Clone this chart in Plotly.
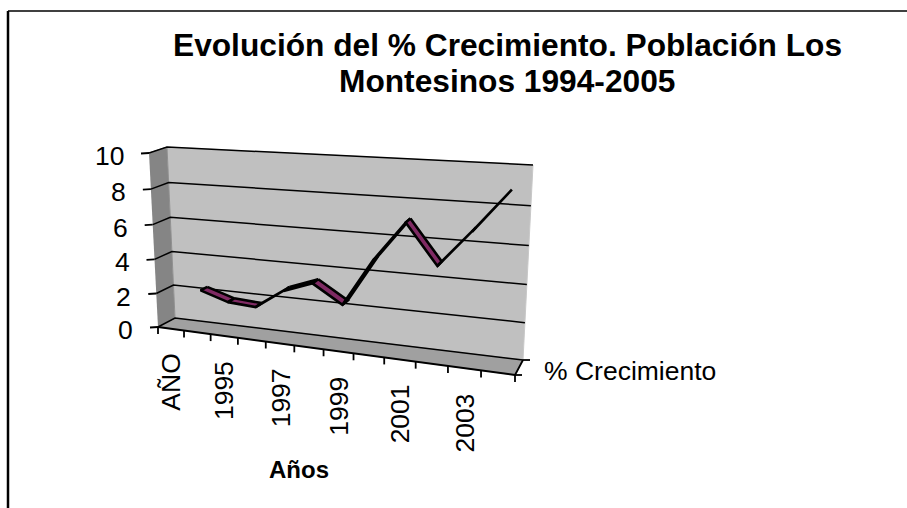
import numpy as np
import plotly.graph_objects as go

# ---- data ----
categories = ["AÑO", "1994", "1995", "1996", "1997", "1998", "1999",
              "2000", "2001", "2002", "2003", "2004"]
growth = [None, 2.3, 1.8, 1.7, 2.8, 3.4, 2.4, 5.0, 7.1, 5.0, 6.9, 8.9]
value_ticks = [0, 2, 4, 6, 8, 10]
shown_labels = ["AÑO", "1995", "1997", "1999", "2001", "2003"]
series_name = "% Crecimiento"
title_lines = ["Evolución del % Crecimiento. Población Los", "Montesinos 1994-2005"]
axis_title = "Años"

# ---- oblique projection of the 3-D chart box onto the page ----
BACK = [(175, 318), (523, 360), (533, 165), (167, 147)]
FRONT = [(158, 327), (515, 375), (525, 175), (149, 153)]


def homography(q):
    src = [(0, 0), (1, 0), (1, 1), (0, 1)]
    A, b = [], []
    for (u, v), (x, y) in zip(src, q):
        A.append([u, v, 1, 0, 0, 0, -u * x, -v * x])
        A.append([0, 0, 0, u, v, 1, -u * y, -v * y])
        b += [x, y]
    h = np.linalg.solve(np.array(A, float), np.array(b, float))
    return np.append(h, 1).reshape(3, 3)


HB, HF = homography(BACK), homography(FRONT)


def project(cat, val, depth=0.0):
    """cat in category units (0..n), val in value units, depth 0=back, 1=front."""
    u, v = cat / len(categories), val / value_ticks[-1]
    out = []
    for H in (HB, HF):
        p = H @ np.array([u, v, 1.0])
        out.append(p[:2] / p[2])
    return out[0] * (1 - depth) + out[1] * depth


fig = go.Figure()


def poly(points, fill=None, color="black", width=1.0):
    xs = [p[0] for p in points]
    ys = [p[1] for p in points]
    kw = dict(fill="toself", fillcolor=fill) if fill else {}
    fig.add_trace(go.Scatter(x=xs, y=ys, mode="lines", hoverinfo="skip", showlegend=False,
                             line=dict(color=color, width=width), **kw))


n = len(categories)
vmax = value_ticks[-1]
# walls and floor
poly([project(0, 0), project(n, 0), project(n, vmax), project(0, vmax)], fill="#c0c0c0", color="#c8c8c8")
poly([project(0, 0, 1), project(0, 0), project(0, vmax), project(0, vmax, 1)], fill="#858585", color="#909090")
poly([project(0, 0, 1), project(n, 0, 1), project(n, 0), project(0, 0)], fill="#a0a0a0", color="#a0a0a0")

# grid lines on walls, tick marks
for t in value_ticks:
    poly([project(0, t, 1), project(0, t), project(n, t)], width=1.5)
    a = project(0, t, 1)
    poly([a, a + np.array([-8, 0.5])], width=1.8)
poly([project(0, 0, 1), project(n, 0, 1)], width=2)
for i in range(n + 1):
    a = project(i, 0, 1)
    poly([a, a + np.array([0, 7])], width=1.8)
for d in (0, 1):
    a = project(n, 0, d)
    poly([a, a + np.array([7, 0])], width=1.8)
poly([project(n, 0, 1), project(n, 0, 0)], width=1.8)

# line ribbon
D0, D1 = 0.30, 0.70
pts = [(i + 0.5, v) for i, v in enumerate(growth) if v is not None]
for (c0, v0), (c1, v1) in zip(pts[:-1], pts[1:]):
    poly([project(c0, v0, D0), project(c1, v1, D0), project(c1, v1, D1), project(c0, v0, D1),
          project(c0, v0, D0)], fill="#7f2a63", color="black", width=2.6)

# labels
TICK = dict(color="black", size=26.5)
ann = []
for t in value_ticks:
    p = project(0, t, 1)
    ann.append(dict(x=p[0] - 23, y=p[1] + 3, text=str(t), showarrow=False, xanchor="right", yanchor="middle", font=TICK))
for lab in shown_labels:
    i = categories.index(lab)
    p = project(i + 0.5, 0, 1)
    ann.append(dict(x=p[0] + 0.5, y=p[1] + 23, text=lab, showarrow=False, textangle=-90, xanchor="center", yanchor="top", font=TICK))
ann.append(dict(x=542, y=371, text=series_name, showarrow=False, xanchor="left", yanchor="middle", font=TICK))
ann.append(dict(x=299, y=469, text="<b>" + axis_title + "</b>", showarrow=False, xanchor="center", yanchor="middle",
                font=dict(color="black", size=24)))
for line, yc in zip(title_lines, [44.5, 80.5]):
    ann.append(dict(x=507, y=yc, text="<b>" + line + "</b>", showarrow=False, xanchor="center", yanchor="middle",
                    font=dict(color="black", size=31.7)))

fig.update_layout(
    width=907, height=508, margin=dict(l=0, r=0, t=0, b=0),
    paper_bgcolor="white", plot_bgcolor="white", showlegend=False,
    font=dict(family="Liberation Sans, Arial, sans-serif", color="black"),
    xaxis=dict(range=[0, 907], visible=False, fixedrange=True),
    yaxis=dict(range=[508, 0], visible=False, fixedrange=True),
    annotations=ann,
    shapes=[dict(type="line", x0=8, x1=8, y0=11, y1=508, line=dict(color="black", width=2.5)),
            dict(type="line", x0=8, x1=907, y0=11, y1=11, line=dict(color="black", width=1.5))],
)
fig.write_html("out.html", post_script="document.body.style.margin='0';document.documentElement.style.overflow='hidden';",
               config={"displayModeBar": False})
